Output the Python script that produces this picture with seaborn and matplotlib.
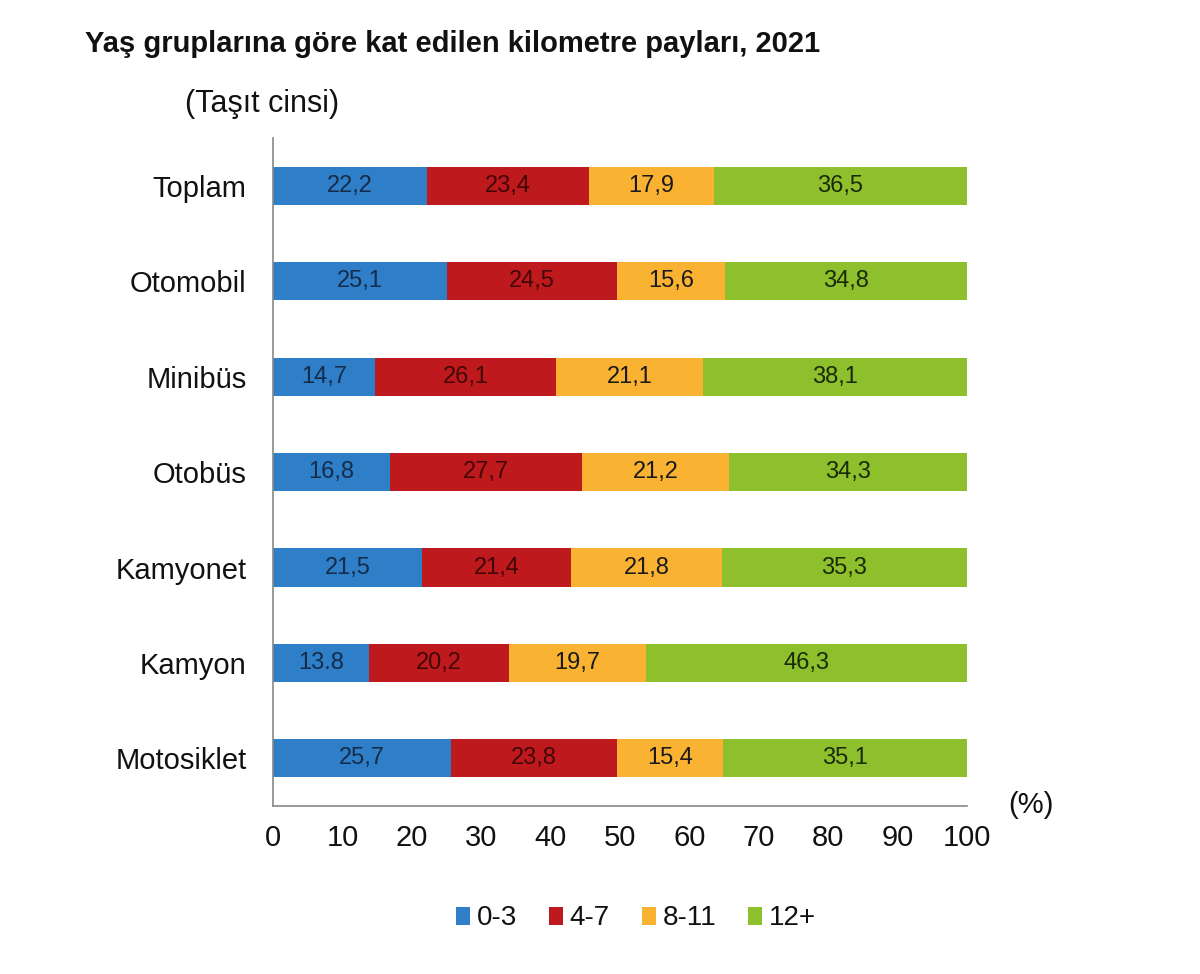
import numpy as np
import pandas as pd
import matplotlib
matplotlib.use('Agg')
import matplotlib.pyplot as plt
from matplotlib.patches import Patch
from matplotlib.ticker import FixedLocator
import seaborn as sns

categories = ['Toplam', 'Otomobil', 'Minibüs', 'Otobüs', 'Kamyonet', 'Kamyon', 'Motosiklet']
groups = ['0-3', '4-7', '8-11', '12+']
v_0_3 = [22.2, 25.1, 14.7, 16.8, 21.5, 13.8, 25.7]
v_4_7 = [23.4, 24.5, 26.1, 27.7, 21.4, 20.2, 23.8]
v_8_11 = [17.9, 15.6, 21.1, 21.2, 21.8, 19.7, 15.4]
v_12 = [36.5, 34.8, 38.1, 34.3, 35.3, 46.3, 35.1]
label_texts = [
    ['22,2', '25,1', '14,7', '16,8', '21,5', '13.8', '25,7'],
    ['23,4', '24,5', '26,1', '27,7', '21,4', '20,2', '23,8'],
    ['17,9', '15,6', '21,1', '21,2', '21,8', '19,7', '15,4'],
    ['36,5', '34,8', '38,1', '34,3', '35,3', '46,3', '35,1'],
]

colors = ['#2F7FC8', '#BE1A1E', '#F9B232', '#8DC02C']
text_colors = ['#142c4a', '#420606', '#1a1a1a', '#1a2a08']

sns.set_theme(style='white')
plt.rcParams['font.family'] = ['Liberation Sans', 'DejaVu Sans']

df = pd.DataFrame({'cat': categories, '0-3': v_0_3, '4-7': v_4_7, '8-11': v_8_11, '12+': v_12})
cum = df[groups].cumsum(axis=1)

fig = plt.figure(figsize=(12, 9.74), dpi=100)
ax = fig.add_axes([0.2275, 0.1725, 0.5783, 0.6855])

# draw cumulative totals from largest to smallest so segments stack
for g, c in reversed(list(zip(groups, colors))):
    sns.barplot(x=cum[g], y=df['cat'], orient='h', color=c, width=0.4,
                saturation=1, edgecolor='none', linewidth=0, ax=ax)

for gi, g in enumerate(groups):
    left = cum[g] - df[g]
    for i in range(len(categories)):
        ax.text(left[i] + df[g][i] / 2, i, label_texts[gi][i], ha='center', va='center',
                fontsize=17, color=text_colors[gi])

ax.set_xlim(0, 100)
ax.set_ylim(6.5, -0.5)
ax.set_xticks(np.arange(0, 101, 10))
ax.set_xlabel('')
ax.set_ylabel('')
ax.tick_params(axis='x', labelsize=21, direction='inout', length=10, width=1, color='#888888',
               pad=8, labelcolor='#111111')
ax.tick_params(axis='y', which='major', length=0, labelsize=21, pad=19, labelcolor='#111111')
ax.yaxis.set_minor_locator(FixedLocator(np.arange(-0.5, 7, 1)))
ax.tick_params(axis='y', which='minor', direction='out', length=6, width=1, color='#888888')
for s in ['top', 'right']:
    ax.spines[s].set_visible(False)
for s in ['left', 'bottom']:
    ax.spines[s].set_color('#888888')
    ax.spines[s].set_linewidth(1.2)

fig.text(0.071, 0.955, 'Yaş gruplarına göre kat edilen kilometre payları, 2021',
         fontsize=21, fontweight='bold', ha='left', va='center', color='#111111')
fig.text(0.154, 0.893, '(Taşıt cinsi)', fontsize=22, ha='left', va='center', color='#111111')
fig.text(0.84, 0.173, '(%)', fontsize=21, ha='left', va='center', color='#111111')

handles = [Patch(facecolor=c, edgecolor='none', label=g) for g, c in zip(groups, colors)]
fig.legend(handles=handles, loc='center', bbox_to_anchor=(0.53, 0.057), ncol=4,
           frameon=False, fontsize=20, handlelength=0.5, handleheight=0.6,
           handletextpad=0.25, columnspacing=1.15, labelcolor='#111111')

fig.savefig('out.png', dpi=100)
